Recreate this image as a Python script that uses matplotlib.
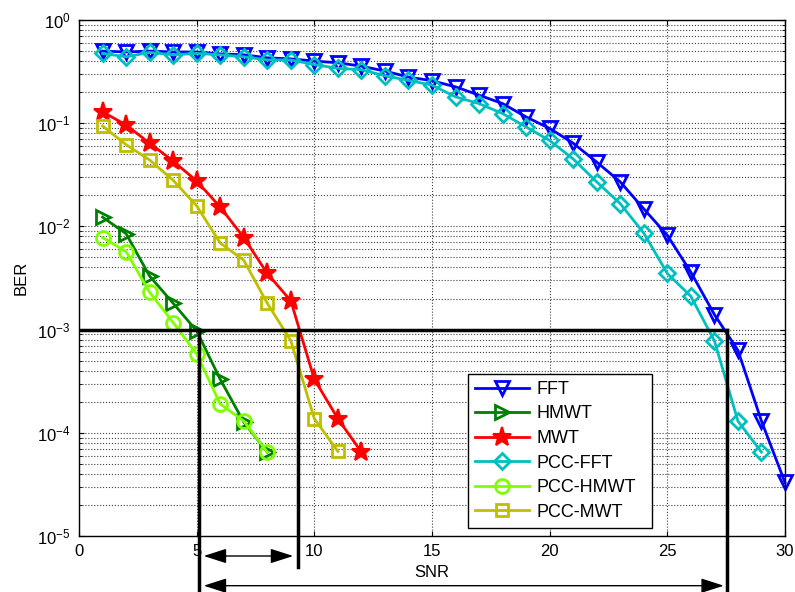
import numpy as np
import matplotlib
matplotlib.use("Agg")
import matplotlib.pyplot as plt

plt.rcParams["font.family"] = ["Liberation Sans", "DejaVu Sans"]

# data (BER vs SNR)
snr_fft = np.arange(1, 31)
ber_fft = [0.50, 0.49, 0.50, 0.49, 0.49, 0.47, 0.46, 0.43, 0.42, 0.40,
           0.385, 0.357, 0.32, 0.28, 0.258, 0.225, 0.187, 0.155, 0.115, 0.089,
           0.064, 0.042, 0.027, 0.0148, 0.0082, 0.0036, 0.0014, 6.3e-4, 1.3e-4, 3.3e-5]

snr_pcc_fft = np.arange(1, 30)
ber_pcc_fft = [0.475, 0.44, 0.485, 0.46, 0.475, 0.46, 0.44, 0.41, 0.41, 0.37,
               0.34, 0.33, 0.288, 0.26, 0.234, 0.18, 0.155, 0.124, 0.092, 0.068,
               0.045, 0.027, 0.0166, 0.0086, 0.0035, 0.0021, 7.8e-4, 1.3e-4, 6.5e-5]

snr_mwt = np.arange(1, 13)
ber_mwt = [0.129, 0.096, 0.064, 0.043, 0.0275, 0.0154, 0.0078, 0.0035,
           0.0019, 3.3e-4, 1.37e-4, 6.5e-5]

snr_pcc_mwt = np.arange(1, 12)
ber_pcc_mwt = [0.094, 0.062, 0.044, 0.028, 0.0158, 0.0069, 0.0047, 0.0018,
               7.8e-4, 1.37e-4, 6.6e-5]

snr_hmwt = np.arange(1, 9)
ber_hmwt = [0.0123, 0.0085, 0.0033, 0.0018, 9.7e-4, 3.3e-4, 1.27e-4, 6.5e-5]

snr_pcc_hmwt = np.arange(1, 9)
ber_pcc_hmwt = [0.0078, 0.0057, 0.0023, 0.00117, 5.8e-4, 1.9e-4, 1.3e-4, 6.5e-5]

# reference BER and where the curves cross it
ber_target = 1e-3
snr_cross = [5.1, 9.3, 27.55]

fig = plt.figure(figsize=(7.95, 5.92), dpi=100)
ax = fig.add_axes([0.0994, 0.0946, 0.888, 0.8716])

style = dict(lw=2, ms=10, mew=2, clip_on=False)
ax.semilogy(snr_fft, ber_fft, "-v", color="#0000ff", mfc="none", label="FFT", **style)
ax.semilogy(snr_hmwt, ber_hmwt, "->", color="#007f00", mfc="none", label="HMWT", **style)
ax.semilogy(snr_mwt, ber_mwt, "-*", color="#ff0000", label="MWT", lw=2, ms=14, mew=1.5)
ax.semilogy(snr_pcc_fft, ber_pcc_fft, "-D", color="#00bfbf", mfc="none", label="PCC-FFT",
            lw=2, ms=8, mew=2)
ax.semilogy(snr_pcc_hmwt, ber_pcc_hmwt, "-o", color="#80ff00", mfc="none", label="PCC-HMWT",
            lw=2, ms=10, mew=2)
ax.semilogy(snr_pcc_mwt, ber_pcc_mwt, "-s", color="#bfbf00", mfc="none", label="PCC-MWT",
            lw=2, ms=9, mew=2)

ax.set_xlim(0, 30)
ax.set_ylim(1e-5, 1)
ax.set_xticks(np.arange(0, 31, 5))
ax.set_xlabel("SNR", fontsize=12, labelpad=4)
ax.set_ylabel("BER", fontsize=12, labelpad=6)
ax.tick_params(which="both", direction="in", top=True, right=True, labelsize=12, pad=6)
ax.grid(True, which="major", linestyle=":", color="0.25", lw=0.8)
ax.yaxis.grid(True, which="minor", linestyle=":", color="0.25", lw=0.8)
for s in ax.spines.values():
    s.set_linewidth(1)

# threshold line and crossing markers
ax.plot([0, snr_cross[2]], [ber_target, ber_target], color="k", lw=2.5, zorder=5)
ax.plot([snr_cross[0], snr_cross[0]], [ber_target, 2.7e-6], color="k", lw=2.5,
        clip_on=False, zorder=5)
ax.plot([snr_cross[1], snr_cross[1]], [ber_target, 5.0e-6], color="k", lw=2.5,
        clip_on=False, zorder=5)
ax.plot([snr_cross[2], snr_cross[2]], [ber_target, 2.7e-6], color="k", lw=2.5,
        clip_on=False, zorder=5)

arrow = dict(arrowstyle="<|-|>,head_length=1.4,head_width=0.45", color="k", lw=1,
             shrinkA=0, shrinkB=0)
ax.annotate("", xy=(snr_cross[0] + 0.2, 6.4e-6), xytext=(snr_cross[1] - 0.2, 6.4e-6),
            arrowprops=arrow, annotation_clip=False)
ax.annotate("", xy=(snr_cross[0] + 0.2, 3.3e-6), xytext=(snr_cross[2] - 0.15, 3.3e-6),
            arrowprops=arrow, annotation_clip=False)

leg = ax.legend(loc="lower left", bbox_to_anchor=(0.551, 0.0155, 0.26, 0.30),
                mode="expand", fontsize=13, handlelength=3.0, handletextpad=0.4,
                fancybox=False, framealpha=1, edgecolor="k", borderaxespad=0,
                labelspacing=0.42, borderpad=0.4)
leg.get_frame().set_linewidth(1)
leg.set_zorder(10)

fig.savefig("out.png", dpi=100)
